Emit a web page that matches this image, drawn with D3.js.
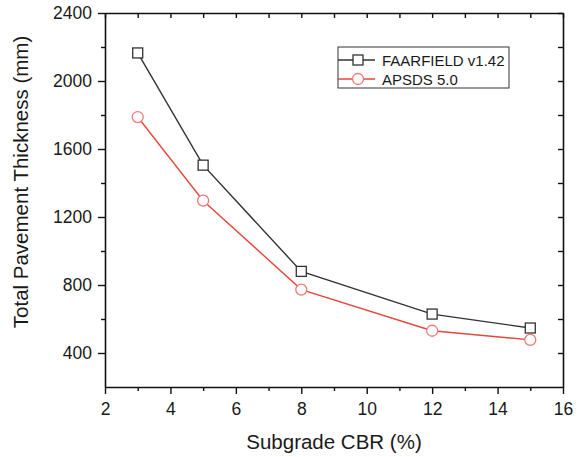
<!DOCTYPE html>
<html>
<head>
<meta charset="utf-8">
<script src="https://cdn.jsdelivr.net/npm/d3@7"></script>
<style>
  body { margin: 0; background: #fff; }
  svg text { font-family: "Liberation Sans", Arial, sans-serif; fill: #1a1a1a; }
</style>
</head>
<body>
<script>
// data
var cbr = [3, 5, 8, 12, 15];
var faarfield = [2165, 1505, 880, 629, 547];
var apsds = [1788, 1296, 773, 531, 477];
var seriesNames = ["FAARFIELD v1.42", "APSDS 5.0"];
var xMajor = [2, 4, 6, 8, 10, 12, 14, 16];
var xMinor = [3, 5, 7, 9, 11, 13, 15];
var yMajor = [400, 800, 1200, 1600, 2000, 2400];
var yMinor = [600, 1000, 1400, 1800, 2200];

var width = 580, height = 457;
var margin = { top: 13, right: 17, bottom: 70, left: 105 };

var x = d3.scaleLinear().domain([2, 16]).range([margin.left, width - margin.right]);
var y = d3.scaleLinear().domain([200, 2400]).range([height - margin.bottom, margin.top]);

var svg = d3.select("body").append("svg")
  .attr("width", width)
  .attr("height", height);

// minor ticks first, then the main axes
function minorAxis(axis, vals, size) {
  return g => g.call(axis.tickValues(vals).tickSize(size).tickFormat(""))
    .call(g => g.select(".domain").remove());
}

var bottomY = height - margin.bottom, topY = margin.top;
var leftX = margin.left, rightX = width - margin.right;

// bottom
svg.append("g").attr("transform", `translate(0,${bottomY})`)
  .call(minorAxis(d3.axisBottom(x), xMinor, 4));
svg.append("g").attr("transform", `translate(0,${bottomY})`)
  .call(d3.axisBottom(x).tickValues(xMajor).tickFormat(d3.format("d")).tickSize(7).tickPadding(9).tickSizeOuter(0))
  .call(g => g.selectAll("text").style("font-size", "17.5px"));
// left
svg.append("g").attr("transform", `translate(${leftX},0)`)
  .call(minorAxis(d3.axisLeft(y), yMinor, 4));
svg.append("g").attr("transform", `translate(${leftX},0)`)
  .call(d3.axisLeft(y).tickValues(yMajor).tickFormat(d3.format("d")).tickSize(7).tickPadding(6).tickSizeOuter(0))
  .call(g => g.selectAll("text").style("font-size", "17.5px"));
// top, inward ticks
svg.append("g").attr("transform", `translate(0,${topY})`)
  .call(d3.axisBottom(x).tickValues(xMajor.concat(xMinor)).tickSize(5).tickFormat("").tickSizeOuter(0));
// right, inward ticks
svg.append("g").attr("transform", `translate(${rightX},0)`)
  .call(d3.axisLeft(y).tickValues(yMajor.concat(yMinor)).tickSize(5).tickFormat("").tickSizeOuter(0));

svg.selectAll(".domain").attr("stroke", "#111").attr("stroke-width", 1.6);
svg.selectAll(".tick line").attr("stroke", "#111").attr("stroke-width", 1.4);

// axis titles
svg.append("text")
  .attr("x", (leftX + rightX) / 2)
  .attr("y", 449)
  .attr("text-anchor", "middle")
  .style("font-size", "20.5px")
  .text("Subgrade CBR (%)");
svg.append("text")
  .attr("transform", "translate(28,182) rotate(-90)")
  .attr("text-anchor", "middle")
  .style("font-size", "20.5px")
  .text("Total Pavement Thickness (mm)");

var line = d3.line().x(d => x(d[0])).y(d => y(d[1]));
var dataA = cbr.map((c, i) => [c, faarfield[i]]);
var dataB = cbr.map((c, i) => [c, apsds[i]]);

var blackCol = "#333333", redCol = "#e8463c", redMarker = "#ef7a74";

svg.append("path").attr("d", line(dataA))
  .attr("fill", "none").attr("stroke", blackCol).attr("stroke-width", 1.4);
svg.append("path").attr("d", line(dataB))
  .attr("fill", "none").attr("stroke", redCol).attr("stroke-width", 1.4);

var sq = 10;
svg.selectAll(".sq").data(dataA).enter().append("rect")
  .attr("x", d => x(d[0]) - sq / 2).attr("y", d => y(d[1]) - sq / 2)
  .attr("width", sq).attr("height", sq)
  .attr("fill", "#fff").attr("stroke", blackCol).attr("stroke-width", 1.3);
svg.selectAll(".ci").data(dataB).enter().append("circle")
  .attr("cx", d => x(d[0])).attr("cy", d => y(d[1])).attr("r", 5.5)
  .attr("fill", "#fff").attr("stroke", redMarker).attr("stroke-width", 1.3);

// legend
var lg = svg.append("g").attr("transform", "translate(338,47)");
lg.append("rect").attr("width", 171).attr("height", 41)
  .attr("fill", "#fff").attr("stroke", "#333").attr("stroke-width", 1);
var rows = [13, 32];
lg.append("line").attr("x1", 0).attr("x2", 37).attr("y1", rows[0]).attr("y2", rows[0])
  .attr("stroke", blackCol).attr("stroke-width", 1.4);
lg.append("rect").attr("x", 20 - sq / 2).attr("y", rows[0] - sq / 2)
  .attr("width", sq).attr("height", sq)
  .attr("fill", "#fff").attr("stroke", blackCol).attr("stroke-width", 1.3);
lg.append("line").attr("x1", 0).attr("x2", 37).attr("y1", rows[1]).attr("y2", rows[1])
  .attr("stroke", redCol).attr("stroke-width", 1.4);
lg.append("circle").attr("cx", 20).attr("cy", rows[1]).attr("r", 5.5)
  .attr("fill", "#fff").attr("stroke", redMarker).attr("stroke-width", 1.3);
lg.selectAll(".lt").data(seriesNames).enter().append("text")
  .attr("x", 44).attr("y", (d, i) => rows[i] + 5.5)
  .style("font-size", "15px")
  .text(d => d);
</script>
</body>
</html>
